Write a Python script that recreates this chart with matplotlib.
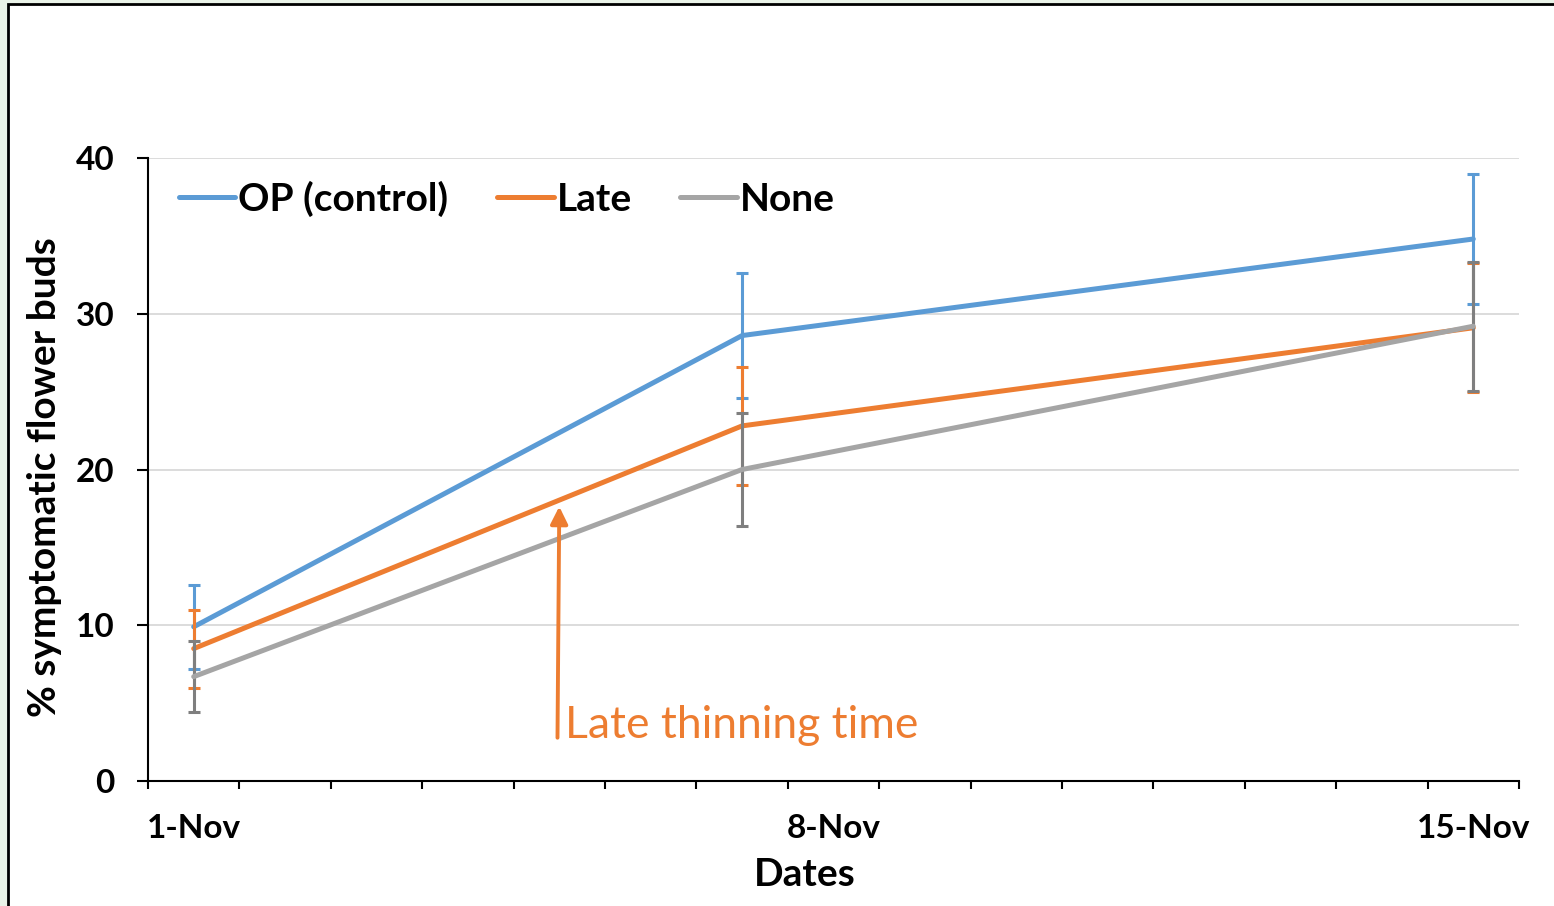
import matplotlib.pyplot as plt
from matplotlib.patches import Rectangle

# Datos (día de noviembre)
days = [1, 7, 15]
op = [9.9, 28.6, 34.8]
op_err = [2.7, 4.0, 4.2]
late = [8.5, 22.8, 29.1]
late_err = [2.5, 3.8, 4.15]
none = [6.7, 20.0, 29.2]
none_err = [2.3, 3.6, 4.15]
tick_days = [1, 8, 15]
tick_labels = ['1-Nov', '8-Nov', '15-Nov']

plt.rcParams['font.family'] = ['Lato', 'DejaVu Sans']

fig = plt.figure(figsize=(15.54, 9.06), dpi=100, facecolor='#EAF3E8')
# Fondo blanco con borde negro (área del gráfico)
fig.patches.append(Rectangle((8 / 1554, -0.01), 1.0, (906 - 4) / 906 + 0.01,
                             transform=fig.transFigure, facecolor='white',
                             edgecolor='black', linewidth=2, zorder=-1))

ax = fig.add_axes([148 / 1554, 125 / 906, 1371 / 1554, 623 / 906])
ax.set_facecolor('white')

series = [
    ('OP (control)', op, op_err, '#5B9BD5', '#5B9BD5'),
    ('Late', late, late_err, '#ED7D31', '#ED7D31'),
    ('None', none, none_err, '#A5A5A5', '#7F7F7F'),
]
for name, vals, err, col, ecol in series:
    ax.errorbar(days, vals, yerr=err, fmt='none', ecolor=ecol,
                elinewidth=2.2, capsize=4, capthick=2.2)
    ax.plot(days, vals, color=col, linewidth=3.6, label=name,
            solid_capstyle='round')

ax.set_xlim(0.5, 15.5)
ax.set_ylim(0, 40)
ax.set_yticks([0, 10, 20, 30, 40])
ax.grid(axis='y', color='#D9D9D9', linewidth=1.3)
ax.set_axisbelow(True)
for s in ['top', 'right']:
    ax.spines[s].set_visible(False)
for s in ['left', 'bottom']:
    ax.spines[s].set_linewidth(1.5)

ax.set_xticks(tick_days)
ax.set_xticklabels(tick_labels)
ax.set_xticks([d + 0.5 for d in range(0, 16)], minor=True)
ax.tick_params(axis='x', which='major', length=0, pad=24, labelsize=24)
ax.tick_params(axis='x', which='minor', length=6, width=1.5)
ax.tick_params(axis='y', length=8, width=1.5, pad=16, labelsize=24)
for lab in ax.get_xticklabels() + ax.get_yticklabels():
    lab.set_fontweight('bold')

leg = ax.legend(loc='upper left', ncol=3, frameon=False,
                prop={'weight': 'bold', 'size': 28}, handlelength=1.45,
                handletextpad=0.08, columnspacing=1.25,
                bbox_to_anchor=(-0.003, 1.02))

# Flecha y texto
ax.annotate('', xy=(5.0, 17.8), xytext=(4.98, 2.6),
            arrowprops=dict(arrowstyle='-|>', color='#ED7D31', lw=2.8,
                            mutation_scale=26))
ax.text(5.06, 2.75, 'Late thinning time', color='#ED7D31', fontsize=32,
        va='baseline', ha='left')

fig.text(805 / 1554, (906 - 875) / 906, 'Dates', ha='center', va='center',
         fontsize=28, fontweight='bold')
fig.text(45 / 1554, (906 - 477) / 906, '% symptomatic flower buds',
         ha='center', va='center', rotation=90, fontsize=28,
         fontweight='bold')

fig.savefig('out.png', dpi=100, facecolor=fig.get_facecolor())
